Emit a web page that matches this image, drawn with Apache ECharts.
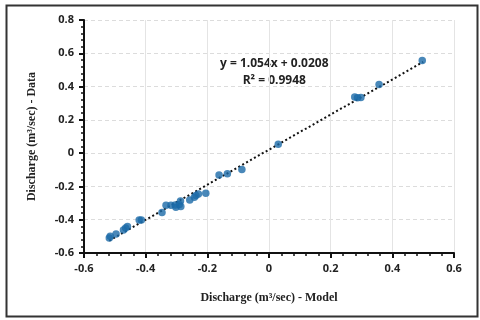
<!DOCTYPE html>
<html>
<head>
<meta charset="utf-8">
<script src="https://cdn.jsdelivr.net/npm/echarts@6/dist/echarts.min.js"></script>
<style>
  html, body { margin: 0; padding: 0; background: #fff; }
  #chart { width: 480px; height: 320px; }
</style>
</head>
<body>
<div id="chart"></div>
<script>
var modelX = [0.497, 0.357, 0.278, 0.287, 0.298, 0.030, -0.088, -0.135, -0.162, -0.205,
  -0.229, -0.237, -0.242, -0.257, -0.287, -0.291, -0.286, -0.302, -0.304, -0.318,
  -0.334, -0.347, -0.414, -0.421, -0.459, -0.465, -0.472, -0.496, -0.515, -0.518]
var dataY = [0.556, 0.412, 0.337, 0.333, 0.335, 0.054, -0.098, -0.124, -0.132, -0.241,
  -0.245, -0.255, -0.265, -0.281, -0.287, -0.309, -0.321, -0.325, -0.311, -0.313,
  -0.313, -0.357, -0.401, -0.401, -0.441, -0.450, -0.462, -0.486, -0.500, -0.510]
// ends of the dotted trend line
var trendX = [-0.518, 0.50]
var trendY = [-0.525, 0.548]
var equationText = 'y = 1.054x + 0.0208'
var r2Text = 'R² = 0.9948'

var points = modelX.map(function (x, i) { return [x, dataY[i]] })
var trend = trendX.map(function (x, i) { return [x, trendY[i]] })

var labelFont = { color: '#222', fontSize: 11, fontWeight: 'bold', fontFamily: 'Open Sans' }

var myChart = echarts.init(document.getElementById('chart'))
myChart.setOption({
  animation: false,
  grid: { left: 84, right: 26, top: 20, bottom: 67 },
  xAxis: {
    type: 'value',
    min: -0.6,
    max: 0.6,
    interval: 0.2,
    name: 'Discharge (m³/sec) - Model',
    nameLocation: 'middle',
    nameGap: 39,
    nameTextStyle: { color: '#222', fontSize: 12, fontWeight: 'bold', fontFamily: 'Liberation Serif' },
    axisLine: { onZero: false, lineStyle: { color: '#111', width: 2 } },
    axisTick: { length: 5, lineStyle: { color: '#111', width: 2 } },
    minorTick: { show: true, splitNumber: 5, length: 3, lineStyle: { color: '#111', width: 1.5 } },
    axisLabel: Object.assign({ margin: 10 }, labelFont),
    splitLine: { show: true, lineStyle: { color: '#e4e4e4', width: 1 } }
  },
  yAxis: {
    type: 'value',
    min: -0.6,
    max: 0.8,
    interval: 0.2,
    name: 'Discharge (m³/sec) - Data',
    nameLocation: 'middle',
    nameGap: 46,
    nameTextStyle: { color: '#222', fontSize: 12, fontWeight: 'bold', fontFamily: 'Liberation Serif' },
    axisLine: { onZero: false, lineStyle: { color: '#111', width: 2 } },
    axisTick: { length: 5, lineStyle: { color: '#111', width: 2 } },
    minorTick: { show: true, splitNumber: 5, length: 3, lineStyle: { color: '#111', width: 1.5 } },
    axisLabel: Object.assign({ margin: 10 }, labelFont),
    splitLine: { show: true, lineStyle: { color: '#dcdcdc', width: 1, type: [4, 3] } }
  },
  series: [
    {
      type: 'line',
      data: trend,
      symbol: 'none',
      silent: true,
      lineStyle: { color: '#111', width: 2, type: [2, 2.5] },
      z: 1
    },
    {
      type: 'scatter',
      data: points,
      symbolSize: 7.5,
      itemStyle: { color: '#1b6aa8' },
      z: 2
    }
  ],
  graphic: [
    {
      type: 'rect',
      left: 4,
      top: 3,
      shape: { width: 471, height: 311 },
      style: { fill: 'none', stroke: '#333', lineWidth: 2 },
      silent: true
    },
    {
      type: 'text',
      left: 220,
      top: 55,
      style: {
        text: equationText + '\n' + r2Text,
        fill: '#222',
        fontSize: 12,
        fontWeight: 'bold',
        fontFamily: 'Open Sans',
        lineHeight: 17,
        textAlign: 'center'
      }
    }
  ]
})
</script>
</body>
</html>
